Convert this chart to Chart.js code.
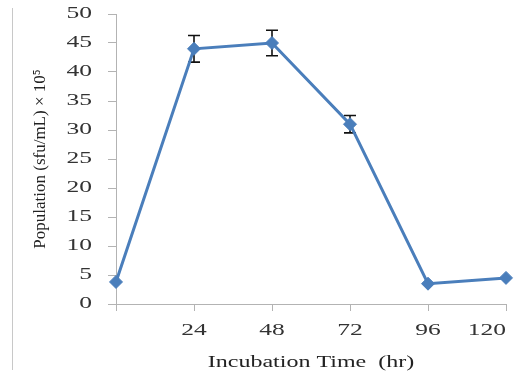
<!DOCTYPE html>
<html>
<head>
<meta charset="utf-8">
<script src="https://cdn.jsdelivr.net/npm/chart.js@4"></script>
<style>
  html, body { margin: 0; padding: 0; background: #ffffff; }
  #wrap { width: 517px; height: 374px; }
</style>
</head>
<body>
<div id="wrap"><canvas id="c" width="517" height="374"></canvas></div>
<script>
// ---- data ----
const hours = [0, 24, 48, 72, 96, 120];
const tickLabels = ['', '24', '48', '72', '96', '120'];
const population = [3.8, 44.0, 45.0, 31.0, 3.5, 4.5];
const errorBars = [0, 2.3, 2.2, 1.5, 0, 0];
const yTitle = 'Population (sfu/mL) \u00d7 10\u2075';
const xTitle = 'Incubation Time  (hr)';

const TEXT_STRETCH = 1.5;
const AXIS_GRAY = '#b3b3b3';

// horizontally widen non-rotated text (tick labels, x title) as in the reference
const stretchText = {
  id: 'stretchText',
  beforeDraw(chart) {
    const ctx = chart.ctx;
    if (ctx.__origFillText) return;
    const orig = ctx.fillText;
    ctx.__origFillText = orig;
    ctx.fillText = function (text, x, y, maxWidth) {
      const m = this.getTransform();
      if (Math.abs(m.b) < 1e-6 && Math.abs(m.c) < 1e-6) {
        this.save();
        this.translate(x, y);
        this.scale(TEXT_STRETCH, 1);
        orig.call(this, text, 0, 0);
        this.restore();
      } else if (maxWidth !== undefined) {
        orig.call(this, text, x, y, maxWidth);
      } else {
        orig.call(this, text, x, y);
      }
    };
  }
};

// light frame line at the left edge of the picture
const frameLine = {
  id: 'frameLine',
  beforeDraw(chart) {
    const ctx = chart.ctx;
    ctx.save();
    ctx.strokeStyle = '#c8c8c8';
    ctx.lineWidth = 1;
    ctx.beginPath();
    ctx.moveTo(12.5, 8);
    ctx.lineTo(12.5, 370);
    ctx.stroke();
    ctx.restore();
  }
};

// error bars drawn from the data through the chart scales
const errorBarPlugin = {
  id: 'errorBarPlugin',
  beforeDatasetsDraw(chart) {
    const ctx = chart.ctx;
    const xs = chart.scales.x, ys = chart.scales.y;
    ctx.save();
    ctx.strokeStyle = '#111111';
    ctx.lineWidth = 1.6;
    errorBars.forEach((e, i) => {
      if (!e) return;
      const x = xs.getPixelForValue(i);
      const yTop = ys.getPixelForValue(population[i] + e);
      const yBot = ys.getPixelForValue(population[i] - e);
      ctx.beginPath();
      ctx.moveTo(x, yTop); ctx.lineTo(x, yBot);
      ctx.moveTo(x - 6, yTop); ctx.lineTo(x + 6, yTop);
      ctx.moveTo(x - 6, yBot); ctx.lineTo(x + 6, yBot);
      ctx.stroke();
    });
    ctx.restore();
  }
};

Chart.defaults.font.family = '"Liberation Serif", "Times New Roman", serif';

new Chart(document.getElementById('c'), {
  type: 'line',
  data: {
    labels: tickLabels,
    datasets: [{
      data: population,
      borderColor: '#4a7ebb',
      backgroundColor: '#4a7ebb',
      borderWidth: 3,
      pointStyle: 'rectRot',
      pointRadius: 6.5,
      pointBorderWidth: 1,
      tension: 0,
      clip: false
    }]
  },
  options: {
    responsive: false,
    animation: false,
    devicePixelRatio: 1,
    layout: { padding: { left: 0, right: 11, top: 14, bottom: 0 } },
    plugins: {
      legend: { display: false },
      tooltip: { enabled: false }
    },
    scales: {
      x: {
        type: 'category',
        offset: false,
        grid: { display: true, drawOnChartArea: false, drawTicks: true, tickLength: 7, color: AXIS_GRAY },
        border: { display: true, color: AXIS_GRAY, width: 1 },
        ticks: { color: '#333333', font: { size: 17 }, padding: 9, maxRotation: 0, autoSkip: false, align: 'inner' },
        title: { display: true, text: xTitle, color: '#222222', font: { size: 16 }, padding: { top: 0, bottom: 2 } },
        afterFit(s) { s.height = 70; s.paddingLeft = 0; s.paddingRight = 0; }
      },
      y: {
        min: 0,
        max: 50,
        ticks: { stepSize: 5, color: '#333333', font: { size: 17 }, padding: 16 },
        grid: { display: true, drawOnChartArea: false, drawTicks: true, tickLength: 8, color: AXIS_GRAY },
        border: { display: true, color: AXIS_GRAY, width: 1 },
        title: { display: true, text: yTitle, color: '#222222', font: { size: 17 }, padding: { top: 30, bottom: 0 } },
        afterFit(s) { s.width = 116; s.paddingTop = 0; s.paddingBottom = 0; }
      }
    }
  },
  plugins: [stretchText, frameLine, errorBarPlugin]
});
</script>
</body>
</html>
